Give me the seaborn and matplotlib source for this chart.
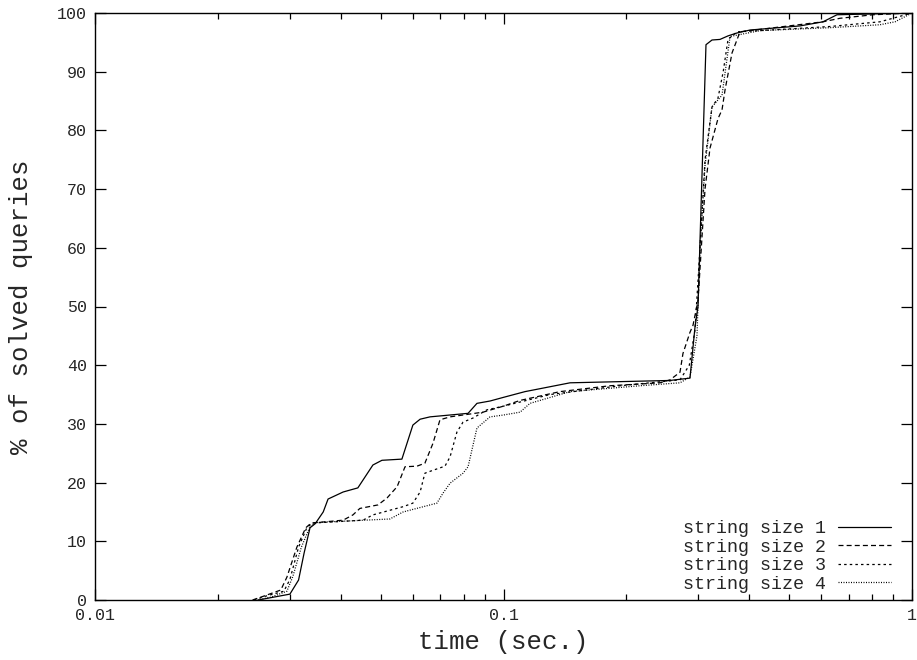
import numpy as np
import pandas as pd
import matplotlib
matplotlib.use("Agg")
import matplotlib.pyplot as plt
from matplotlib.ticker import LogLocator, FixedLocator, NullFormatter
import seaborn as sns

# ---- data ----
labels = ["string size 1", "string size 2", "string size 3", "string size 4"]

x1 = [0.0251, 0.0300, 0.0315, 0.0325, 0.0336, 0.0346, 0.0362, 0.0372, 0.0405, 0.0440,
      0.0479, 0.0504, 0.0564, 0.0600, 0.0625, 0.0661, 0.0819, 0.0861, 0.0927, 0.0997,
      0.1129, 0.1229, 0.1455, 0.1929, 0.2556, 0.2861, 0.2943, 0.2993, 0.3131, 0.3239,
      0.3388, 0.3545, 0.3730, 0.4013, 0.5319, 0.6055, 0.6552, 1.0]
y1 = [0, 1.0, 3.4, 8, 12.3, 13.0, 15, 17.2, 18.4, 19.1,
      23, 23.8, 24, 29.8, 30.8, 31.2, 31.8, 33.5, 33.9, 34.5,
      35.5, 36, 37, 37.2, 37.4, 37.8, 46.5, 50, 94.6, 95.4,
      95.5, 96.1, 96.6, 97.1, 97.8, 98.5, 99.7, 100]

x2 = [0.0243, 0.0255, 0.0285, 0.0295, 0.0312, 0.0328, 0.0338, 0.0405, 0.0428, 0.0445,
      0.0493, 0.0519, 0.0549, 0.0574, 0.0614, 0.0642, 0.0672, 0.0699, 0.0740, 0.0891,
      0.0997, 0.1098, 0.1375, 0.1823, 0.2416, 0.2556, 0.2704, 0.2750, 0.2861, 0.2910,
      0.2993, 0.3114, 0.3203, 0.3350, 0.3427, 0.3486, 0.3626, 0.3793, 0.6055, 0.6664,
      0.8027, 1.0]
y2 = [0, 0.5, 1.7, 3.9, 9, 12.3, 13.1, 13.6, 14.5, 15.6,
      16.2, 17.4, 19.3, 22.7, 22.8, 23.3, 26.7, 30.7, 31.2, 32,
      33, 34, 35.5, 36.5, 37, 37.5, 38.8, 42, 45.6, 46.8,
      51, 70, 77, 82, 83.5, 86.9, 93.2, 96.8, 98.5, 99.1,
      99.7, 100]

x3 = [0.0245, 0.0260, 0.0290, 0.0300, 0.0315, 0.0330, 0.0340, 0.0453, 0.0479, 0.0568,
      0.0600, 0.0625, 0.0642, 0.0672, 0.0719, 0.0740, 0.0769, 0.0796, 0.0842, 0.0911,
      0.0997, 0.1300, 0.1929, 0.2704, 0.2850, 0.2943, 0.3027, 0.3114, 0.3239, 0.3350,
      0.3450, 0.3545, 0.3730, 0.4246, 0.6299, 0.8349, 1.0]
y3 = [0, 0.6, 1.5, 3.5, 9, 12.3, 13.1, 13.6, 14.5, 15.9,
      16.5, 18.4, 21.6, 22.1, 22.8, 24.4, 28.6, 30.3, 31, 32.4,
      33, 35, 36.5, 37.5, 40, 46, 60, 75, 84, 85.5,
      90, 95.5, 96.8, 97, 97.7, 98.5, 100]

x4 = [0.0250, 0.0270, 0.0295, 0.0305, 0.0320, 0.0335, 0.0346, 0.0527, 0.0568, 0.0687,
      0.0711, 0.0740, 0.0796, 0.0819, 0.0861, 0.0927, 0.0997, 0.1098, 0.1161, 0.1455,
      0.2159, 0.2704, 0.2861, 0.2976, 0.3027, 0.3114, 0.3239, 0.3427, 0.3586, 0.4246,
      0.6299, 0.8349, 0.9088, 1.0]
y4 = [0, 0.5, 1.5, 4, 9, 12.3, 13.2, 13.8, 15, 16.5,
      18.2, 19.9, 21.6, 22.7, 29.3, 31.2, 31.5, 32, 33.5, 35.5,
      36.5, 37, 38, 45, 60, 74, 84, 86, 96, 97,
      97.5, 98, 98.5, 100]

xs = [x1, x2, x3, x4]
ys = [y1, y2, y3, y4]
styles = ["-", (0, (4, 2.5)), (0, (2, 2.5)), (0, (0.8, 1.2))]

x_ticks = [0.01, 0.1, 1]
x_ticklabels = ["0.01", "0.1", "1"]
y_ticks = [0, 10, 20, 30, 40, 50, 60, 70, 80, 90, 100]

# ---- style ----
sns.set_style("ticks")
plt.rcParams["font.family"] = ["Liberation Mono", "DejaVu Sans Mono"]

fig = plt.figure(figsize=(9.17, 6.6), dpi=100)
ax = fig.add_axes([95 / 917, 60 / 660, 817 / 917, 587 / 660])

for x, y, lab, ls in zip(xs, ys, labels, styles):
    df = pd.DataFrame({"time": x, "pct": y})
    sns.lineplot(data=df, x="time", y="pct", ax=ax, color="black", lw=0.9,
                 linestyle=ls, label=lab, sort=False, estimator=None)

ax.set_xscale("log")
ax.set_xlim(0.01, 1)
ax.set_ylim(0, 100)
ax.xaxis.set_major_locator(FixedLocator(x_ticks))
ax.set_xticklabels(x_ticklabels)
ax.xaxis.set_minor_locator(LogLocator(base=10, subs=np.arange(2, 10)))
ax.xaxis.set_minor_formatter(NullFormatter())
ax.set_yticks(y_ticks)

ax.tick_params(which="both", direction="in", top=True, right=True,
               labelsize=12, width=0.9, color="black", pad=6)
ax.tick_params(which="major", length=8)
ax.tick_params(which="minor", length=4)
for sp in ax.spines.values():
    sp.set_linewidth(1.0)
    sp.set_color("black")

ax.set_xlabel("time (sec.)", fontsize=18.5, labelpad=5)
ax.set_ylabel("% of solved queries", fontsize=18.5, labelpad=17)

ax.legend(loc="lower right", bbox_to_anchor=(0.983, 0.0), frameon=False,
          fontsize=13.2, markerfirst=False, handlelength=2.9, handletextpad=0.65,
          labelspacing=0.08, borderaxespad=0.0)

fig.savefig("out.png", dpi=100)
